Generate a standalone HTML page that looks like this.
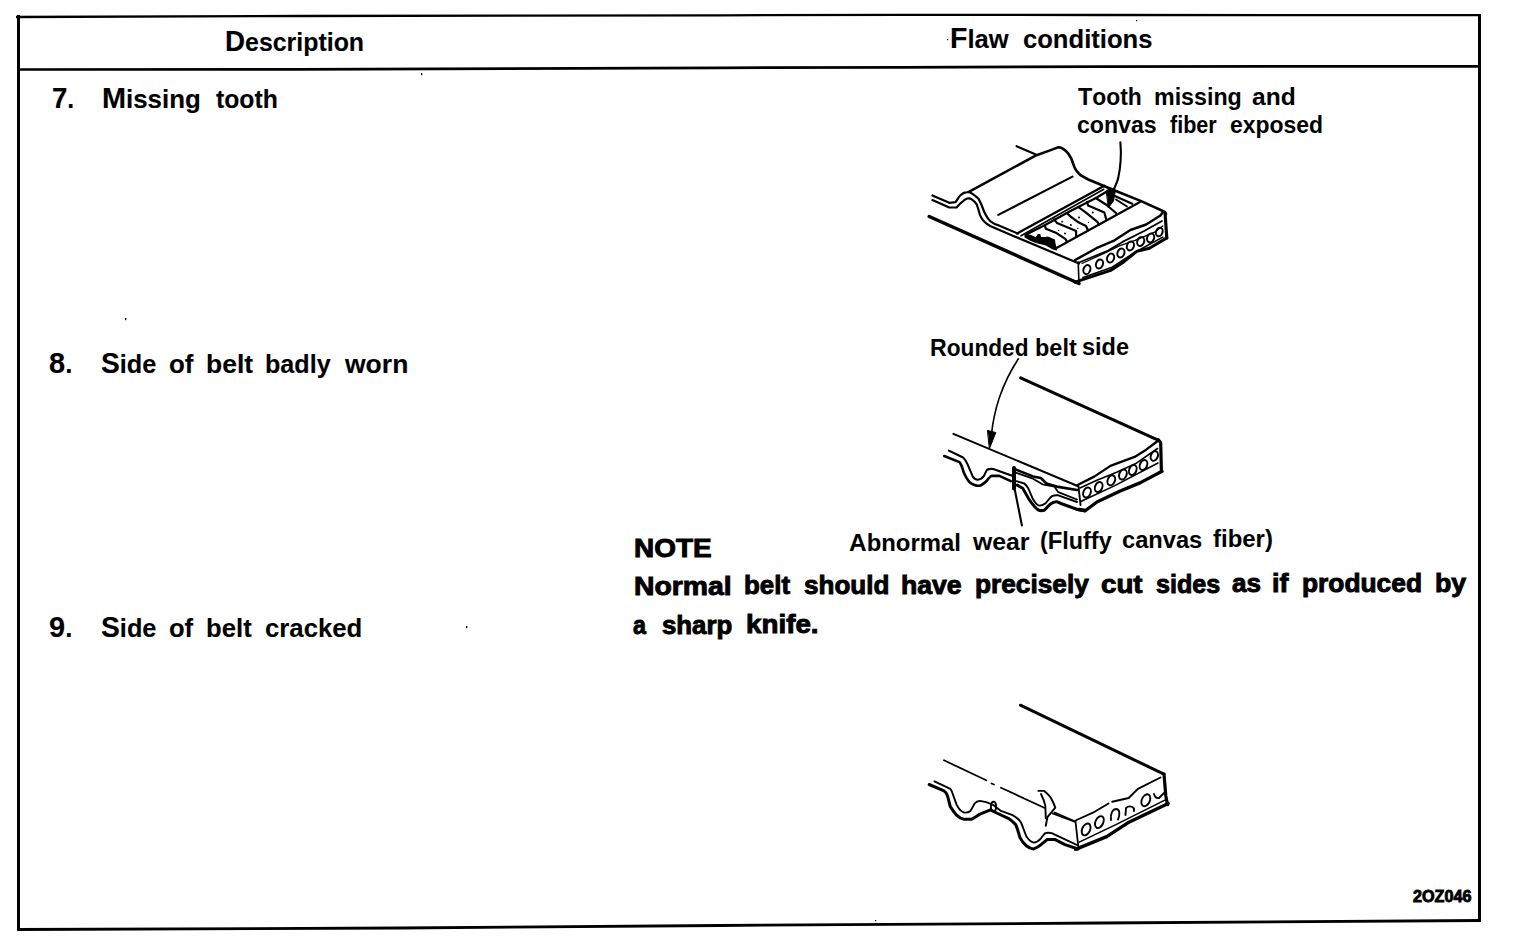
<!DOCTYPE html>
<html><head><meta charset="utf-8"><style>
html,body{margin:0;padding:0;background:#fff;width:1520px;height:948px;overflow:hidden}
#t span{position:absolute;font-family:"Liberation Sans",sans-serif;font-weight:bold;line-height:1;white-space:pre;color:#000;transform-origin:0 0}
#t i{font-style:normal;line-height:0}
svg{position:absolute;left:0;top:0}
</style></head><body>
<svg width="1520" height="948" viewBox="0 0 1520 948">

<polyline points="16,17 300,16 720,15.3 900,14.9 1100,15 1481,15.2" stroke="#000" stroke-width="2.3" fill="none"/>
<polyline points="18.5,15 18.5,931" stroke="#000" stroke-width="3" fill="none"/>
<polyline points="1479.5,14 1479.5,922" stroke="#000" stroke-width="3" fill="none"/>
<polyline points="17,69.5 300,69.3 436,68.8 720,67.8 900,67.4 1100,66.6 1300,66.4 1481,66.3" stroke="#000" stroke-width="2.7" fill="none"/>
<rect x="421" y="73" width="1.3" height="2.2" fill="#000"/>
<rect x="125" y="318" width="1.3" height="2.2" fill="#000"/>
<rect x="466" y="626" width="1.3" height="2.2" fill="#000"/>
<rect x="947" y="39" width="1.2" height="1.2" fill="#000"/>
<rect x="1136" y="20" width="1.2" height="1.2" fill="#000"/>
<rect x="875" y="920" width="1.2" height="1.2" fill="#000"/>
<polyline points="17,929.5 400,928 720,925.5 1100,923 1481,920.5" stroke="#000" stroke-width="2.8" fill="none"/>

<g fill="none" stroke="#000" stroke-linecap="round" stroke-linejoin="round">
<!-- bottom long front edge -->
<path d="M929.2,216.5 L1079,283.5" stroke-width="3.4"/>
<!-- back edge + tooth hump -->
<path d="M969.3,191.7 L1035.1,155.8 L1051.4,149.9 L1058,147.4 C1062,146.8 1065,149.5 1068.3,153.6 C1071,157 1072.5,161 1073.5,164.7 C1074.5,168.5 1076,171.4 1080.9,175.4 L1088.3,179.5 L1115.3,190.8 L1140.6,200.9 L1164,211.5 L1166,214" stroke-width="2.6"/>
<!-- tick -->
<path d="M1016.6,146.2 L1035.8,154.4" stroke-width="2.2"/>
<!-- inner tooth line -->
<path d="M998.3,214.9 L1072.5,176.6" stroke-width="2.1"/>
<!-- left profile upper -->
<path d="M932.4,195.4 L949.3,202.8 L955.6,202.2 C958,199 959,196 960.9,194.9 C963,193 965,192.3 967.2,192.2 C969.5,192 971,192.8 972.5,193.8 C975,195.5 977,197 978.8,199.1 C981,203 982.5,207 984.1,211.7 C986,215.5 988,219 990.4,221.2 C993,223.5 995.5,224.5 998.8,225.4 L1018,233.6" stroke-width="2.2"/>
<!-- left profile lower -->
<path d="M932.4,200.1 L949.3,207.5 L956.6,207.5 C958.5,205.5 960,203.5 961.9,202.2 C963.5,200.5 965.5,199 967.2,198.5 C969,198.2 970.5,198.5 971.4,199.1 C973.5,200.5 975.5,202.5 976.7,204.3 C978,207.5 979,211.5 979.9,214.9 C981.5,218.5 983.5,221.5 986.2,223.3 C988.5,225 991,226.5 993.6,227.6 L1015.7,237" stroke-width="2.2"/>
<!-- block left bottom edge -->
<path d="M1016,237 L1079,263.5" stroke-width="2.2"/>
<!-- channel lines -->
<path d="M1017,233.5 L1104.4,185.8" stroke-width="2.4"/>
<path d="M1021,235.8 L1103.8,189.3" stroke-width="1.6"/>
<path d="M1026.2,234.5 L1044.7,225.2 L1069.1,211.8 L1096.8,197.4 L1106,192" stroke-width="2.3"/>
<!-- block front ridge -->
<path d="M1055.6,248.5 L1140,202" stroke-width="2.2"/>
<!-- torn fiber jagged (filled) -->
<path d="M1025,234 L1031,235.5 L1036,238 L1038,234.5 L1040,234.5 L1040.5,237.5 L1046,237.5 L1047,237 L1049,237.5 L1054.5,240 L1055,244 L1056.5,250 L1053,249 L1046,245 L1036,242.5 L1030,240 L1025,237 Z" fill="#000" stroke-width="1.1"/>
<!-- cell dividers -->
<g stroke-width="2.2">
<path d="M1044.7,225.2 L1045.9,228.7 L1055.8,232.7 L1065.6,239.1 L1067,242"/>
<path d="M1054,219.4 L1056.9,222.9 L1069.1,228.1 L1076.1,231 L1076.1,237"/>
<path d="M1068,214.2 L1071.4,217.1 L1078.4,222.3 L1086,226 L1088,230.5"/>
<path d="M1078.4,207.2 L1085,211.8 L1097.4,221.8 L1099,224.5"/>
<path d="M1087,202 L1088.1,205.5 L1104.4,212.5 L1106.1,219"/>
<path d="M1095.7,198 L1106.7,205 L1116,213"/>
<path d="M1114.8,196 L1132.2,203.8"/>
<path d="M1116,199.5 L1127,206.5" stroke-width="1.8"/>
</g>
<g fill="#000" stroke="none">
<circle cx="1062.1" cy="221.7" r="0.9"/><circle cx="1079" cy="217.6" r="1"/><circle cx="1070.9" cy="224.9" r="1"/>
<circle cx="1065" cy="233.6" r="1"/><circle cx="1058.7" cy="230.4" r="0.7"/><circle cx="1077.8" cy="228.4" r="0.7"/>
<circle cx="1092.8" cy="212.6" r="1"/><circle cx="1088.5" cy="222.4" r="0.6"/>
</g>
<!-- leader + arrow -->
<path d="M1120.4,142.2 C1121.5,155 1120.5,168 1118,178.9 C1116.5,184 1114.5,188 1112.5,192" stroke-width="2.1"/>
<path d="M1106.5,190.5 L1111,188 L1115.5,190 L1113.5,201 L1108.5,207.5 Z" fill="#000" stroke-width="1"/>
<!-- end face -->
<path d="M1075,260.1 L1096.4,248.2 L1114.6,240.3 L1130.4,230 L1146.2,224.5 L1160.4,215.5 L1163,212" stroke-width="2.4"/>
<path d="M1079,262.5 L1108.2,250.6 L1122.5,241.9 L1144.6,230.8 L1162,221" stroke-width="1.8"/>
<path d="M1082,263.5 L1106.6,252.2 L1119.3,245.9 L1135.1,240.3 L1154.1,232.4 L1162.8,226" stroke-width="1.3"/>
<path d="M1165,212.5 L1166.8,238" stroke-width="3.2"/>
<path d="M1078.2,262 L1079,284" stroke-width="1.6"/>
<path d="M1075,282.2 L1110.6,270.4 L1124,261.7 L1136.7,251.4 L1149.4,248.2 L1166.8,237.9" stroke-width="3"/>
<path d="M1083,277.5 L1098.7,272 L1112.2,267.2 L1124,259.3 L1135.1,252.2 L1162.8,237.1" stroke-width="1.6"/>
<g stroke-width="2">
<ellipse cx="1086.9" cy="269.6" rx="3.4" ry="4.6" transform="rotate(20 1086.9 269.6)"/>
<ellipse cx="1099.5" cy="264" rx="3.4" ry="4.6" transform="rotate(20 1099.5 264)"/>
<ellipse cx="1110.6" cy="258.1" rx="3.4" ry="4.6" transform="rotate(20 1110.6 258.1)"/>
<ellipse cx="1120.9" cy="253" rx="3.4" ry="4.6" transform="rotate(20 1120.9 253)"/>
<ellipse cx="1130.4" cy="245.9" rx="3.4" ry="4.6" transform="rotate(20 1130.4 245.9)"/>
<ellipse cx="1140.7" cy="241.5" rx="3.4" ry="4.6" transform="rotate(20 1140.7 241.5)"/>
<ellipse cx="1150.6" cy="237.9" rx="3.4" ry="4.6" transform="rotate(20 1150.6 237.9)"/>
<ellipse cx="1159.3" cy="232" rx="3.2" ry="4.4" transform="rotate(20 1159.3 232)"/>
</g>
</g>
<g fill="none" stroke="#000" stroke-linecap="round" stroke-linejoin="round">
<!-- leader rounded side -->
<path d="M1018.4,358.8 C1011,370 1003,387 999.3,397.8 C996,408 993,420 991.6,433" stroke-width="1.6"/>
<path d="M987.8,430.5 L995.8,432.5 L992.5,441 L989.5,448.5 Z" fill="#000" stroke-width="1"/>
<!-- top long edge -->
<path d="M1020.6,377.9 L1157,439.6" stroke-width="3.0"/>
<!-- right edge -->
<path d="M1158.3,439.6 L1160.7,442.8 L1161.4,471.3" stroke-width="3.2"/>
<!-- thin top-side line -->
<path d="M953.4,433.8 L1077.6,486" stroke-width="1.9"/>
<!-- face top edge + inner -->
<path d="M1077.6,485 L1094.2,476.6 L1110.4,465.9 L1134.6,456.9 L1146.2,449.7 L1157,441.5" stroke-width="2.3"/>
<path d="M1079.9,488 L1096.9,480.2 L1116.6,472.2 L1136.4,463.2 L1157.5,448.5" stroke-width="1.6"/>
<!-- face left edge -->
<path d="M1078.5,486.5 L1080.5,505" stroke-width="1.9"/>
<!-- face bottom edge thick -->
<path d="M1079,509.5 L1085.5,510.5 L1096.9,502 L1120.2,491 L1140,482.9 L1162,471.3" stroke-width="3.3"/>
<path d="M1080.8,501.5 L1114.8,485.6 L1158,463" stroke-width="1.6"/>
<g stroke-width="2">
<ellipse cx="1087" cy="492.5" rx="3.6" ry="5.2" transform="rotate(22 1087 492.5)"/>
<ellipse cx="1098.7" cy="487" rx="3.6" ry="5.2" transform="rotate(22 1098.7 487)"/>
<ellipse cx="1111.3" cy="480.3" rx="3.6" ry="5.2" transform="rotate(22 1111.3 480.3)"/>
<ellipse cx="1122.9" cy="474.5" rx="3.6" ry="5.2" transform="rotate(22 1122.9 474.5)"/>
<ellipse cx="1132.8" cy="470" rx="3.6" ry="5.2" transform="rotate(22 1132.8 470)"/>
<ellipse cx="1143.5" cy="465" rx="3.6" ry="5.2" transform="rotate(22 1143.5 465)"/>
<ellipse cx="1154.3" cy="456" rx="3.4" ry="5" transform="rotate(22 1154.3 456)"/>
</g>
<!-- left profile upper -->
<path d="M948.8,450.6 L963.1,457.5 C965.5,459.5 966.5,462 967.9,465.2 L972.5,475.9 C974,478.5 976,479.7 977.8,479.7 C980.5,479.5 982.5,478 984,475.9 C985.5,473 986,471 987,469.8 C989,468.8 991,468.8 993.1,469 L1011.6,475.6" stroke-width="2.1"/>
<!-- left profile lower -->
<path d="M944.2,456 L959.5,462.1 C961.5,464.5 962.5,468 963.3,471.3 C965,475.5 967,479.5 969.4,482 C972,484.5 976,485.8 979.4,485.8 C982.5,485 985,482.5 987,480.5 C988.5,478.5 990,476.5 991.6,475.9 L999.3,475.9 L1010.8,481.1" stroke-width="2.6"/>
<!-- worn mark -->
<path d="M1014,468 L1014,488.5" stroke-width="4.0"/>
<path d="M1014,468.8 L1033,476.4 L1040.9,478 L1046.4,483.5 L1056.7,486.6 L1077,490" stroke-width="2.6"/>
<path d="M1016.4,472.8 L1033,478.7 L1042.5,484.3 L1054.3,486.6 L1058.3,492.2 L1077,499.5" stroke-width="1.8"/>
<!-- profile tooth right -->
<path d="M1016.4,481.1 L1024.3,483.5 C1026,485 1027,486.5 1028.2,488.2 L1033,499.3 C1035,502.5 1037,505.6 1039.3,505.6 C1042,505.8 1044,504.5 1045.6,503.3 C1048,500.5 1050,497.5 1052,496.1 C1054,495.3 1056,495 1058.3,495.3 L1077,502" stroke-width="1.9"/>
<path d="M1017.2,485.1 L1022.7,488.2 C1025,492 1027,496 1029,499.3 C1032,503.5 1035,507.5 1037.7,509.6 C1039.5,510.6 1042,510.8 1044.1,510.4 C1046.5,508.5 1048.5,505.5 1050.4,504 C1052.5,502.5 1054.5,501.5 1056.7,501.7 L1062.2,504 L1077.5,509.5 L1085,511" stroke-width="3.0"/>
<!-- leader abnormal wear -->
<path d="M1014.8,489.8 L1021.9,525.4" stroke-width="2.1"/>
</g>
<g fill="none" stroke="#000" stroke-linecap="round" stroke-linejoin="round">
<!-- top long edge -->
<path d="M1020.4,705.2 L1164,774.2" stroke-width="3.0"/>
<path d="M1164,774.2 L1165.8,796 L1167.5,804.7" stroke-width="3.2"/>
<!-- thin top-side line (broken) -->
<path d="M944,760.3 L986.2,780.3 M991.5,783.5 L994,784.5 M1001,787.7 L1044.2,807.7 M1054.7,812.5 L1075.3,821.5" stroke-width="1.8"/>
<!-- face top edge -->
<path d="M1075.5,820.5 L1092.9,812.7 L1108.5,803.5 M1112.2,801.7 L1128.7,798 L1137.9,788.9 L1160.5,777.5" stroke-width="1.9"/>
<path d="M1075.5,821.5 L1078.3,846.5" stroke-width="1.8"/>
<path d="M1075.5,849.4 L1106.7,836.6 L1127.8,822.8 L1168.2,803.5" stroke-width="3.3"/>
<path d="M1079.2,842.1 L1115.9,824.6 L1165.4,799.9" stroke-width="1.6"/>
<g stroke-width="1.9">
<ellipse cx="1086.1" cy="829.4" rx="3.9" ry="6.3" transform="rotate(25 1086.1 829.4)"/>
<ellipse cx="1099.4" cy="822.1" rx="3.9" ry="6.3" transform="rotate(25 1099.4 822.1)"/>
<path d="M1111,820 C1110,813 1113,809 1116.5,809 C1120,809.5 1120,815 1118,819.5"/>
<path d="M1125.5,815 L1126,808 C1128,806 1132,805.5 1134,808.5 L1134,811"/>
<ellipse cx="1145.8" cy="800.3" rx="4" ry="6.3" transform="rotate(25 1145.8 800.3)"/>
<path d="M1154,794 C1155,797.5 1157,798.5 1159,798 L1164,793"/>
</g>
<!-- profile upper thin -->
<path d="M934.5,781.4 L950.3,788.8 C951.5,790 952,791.5 952.4,793 L956.6,804.6 C958.5,808.5 961,811.5 964,812.5 C966.5,812.8 969,812 970.4,810.9 C972,808.5 973.5,805.5 974.6,803.5 C976,801.8 978,801 979.9,800.9 C984,801.2 988.5,802.5 992.5,804.6 L1001,810.9 L1012.6,815.1 C1016,817 1019,819.5 1021,822.5 C1023,827 1024.5,832 1026.3,836.2 C1028.5,839.5 1031,842 1033.6,842.6 C1036.5,842.4 1039,840.5 1041,838.3 C1042.5,836.5 1043.8,834 1045.3,833.1 C1047.5,832.6 1049.5,832.6 1051.6,833.1 L1065,839.4 L1077,845" stroke-width="1.9"/>
<!-- profile lower thick -->
<path d="M929.2,784.5 L944,790.9 C945.5,792 946.5,793.5 947.2,795.1 C948.5,799 949.3,803 950.3,806.7 C952.5,810 954.5,813 956.6,815.1 C959,817.5 961.5,819 964,819.3 L971.4,819.3 C974.5,817.8 977.5,815.5 979.9,814.1 L990.4,809.9 L996.7,813 L1008.3,818.3 C1011,820 1013.5,822.5 1015.7,824.6 C1017.5,828.5 1018.5,833 1019.9,837.3 C1021.5,840.5 1023.5,843.5 1026.3,845.7 C1028.5,847.5 1031,848.7 1033.6,848.9 C1036.5,848 1039,846.5 1041,844.7 L1047.4,839.4 L1054.7,839.4 L1065,844.7 L1078,849" stroke-width="3.0"/>
<!-- small loop -->
<ellipse cx="993.5" cy="806.5" rx="2.6" ry="4.8" stroke-width="1.9"/>
<!-- crack flap -->
<path d="M1038.4,790.9 L1044.2,790.9 C1048,794 1050.5,796.5 1051.6,799.3 C1053,802 1054.5,805 1055.3,807.7 L1047.4,817.2 L1045.8,825.7" stroke-width="1.9"/>
<path d="M1041,794 C1043,798 1044.5,802 1045.3,805.6 L1045.8,818.3" stroke-width="1.9"/>
<path d="M1052.6,813.4 L1075.3,822" stroke-width="1.8"/>
</g>

</svg>
<div id="t">
<span style="left:225.08px;top:28.74px;font-size:26px;-webkit-text-stroke:0.1px #000;transform:scaleX(0.9577)"><i style="font-size:29px">D</i>escription</span>
<span style="left:950.03px;top:26.24px;font-size:26px;-webkit-text-stroke:0.1px #000;transform:scaleX(0.9828)"><i style="font-size:29px">F</i>law</span>
<span style="left:1023.02px;top:25.74px;font-size:26px;-webkit-text-stroke:0.1px #000;transform:scaleX(0.9845)">conditions</span>
<span style="left:52.05px;top:85.74px;font-size:26px;-webkit-text-stroke:0.1px #000;transform:scaleX(0.9524)"><i style="font-size:29px">7</i>.</span>
<span style="left:102.01px;top:85.74px;font-size:26px;-webkit-text-stroke:0.1px #000;transform:scaleX(0.9948)"><i style="font-size:29px">M</i>issing</span>
<span style="left:216.00px;top:85.74px;font-size:26px;-webkit-text-stroke:0.1px #000;transform:scaleX(0.9524)">tooth</span>
<span style="left:49.00px;top:350.74px;font-size:26px;-webkit-text-stroke:0.1px #000;transform:scaleX(1.0000)"><i style="font-size:29px">8</i>.</span>
<span style="left:100.53px;top:350.74px;font-size:26px;-webkit-text-stroke:0.1px #000;transform:scaleX(0.9727)"><i style="font-size:29px">S</i>ide</span>
<span style="left:168.50px;top:350.74px;font-size:26px;-webkit-text-stroke:0.1px #000;transform:scaleX(0.9958)">of</span>
<span style="left:205.96px;top:350.74px;font-size:26px;-webkit-text-stroke:0.1px #000;transform:scaleX(1.0182)">belt</span>
<span style="left:265.37px;top:350.74px;font-size:26px;-webkit-text-stroke:0.1px #000;transform:scaleX(0.9667)">badly</span>
<span style="left:345.00px;top:350.74px;font-size:26px;-webkit-text-stroke:0.1px #000;transform:scaleX(1.0197)">worn</span>
<span style="left:49.00px;top:615.24px;font-size:26px;-webkit-text-stroke:0.1px #000;transform:scaleX(1.0000)"><i style="font-size:29px">9</i>.</span>
<span style="left:101.03px;top:615.24px;font-size:26px;-webkit-text-stroke:0.1px #000;transform:scaleX(0.9745)"><i style="font-size:29px">S</i>ide</span>
<span style="left:169.02px;top:615.24px;font-size:26px;-webkit-text-stroke:0.1px #000;transform:scaleX(0.9833)">of</span>
<span style="left:206.02px;top:615.24px;font-size:26px;-webkit-text-stroke:0.1px #000;transform:scaleX(0.9886)">belt</span>
<span style="left:265.01px;top:615.24px;font-size:26px;-webkit-text-stroke:0.1px #000;transform:scaleX(0.9896)">cracked</span>
<span style="left:1078.40px;top:85.73px;font-size:23px;-webkit-text-stroke:0.0px #000;transform:scaleX(0.9937)"><i style="font-size:23.5px">T</i>ooth</span>
<span style="left:1153.78px;top:85.73px;font-size:23px;-webkit-text-stroke:0.0px #000;transform:scaleX(1.0096)">missing</span>
<span style="left:1252.33px;top:85.73px;font-size:23px;-webkit-text-stroke:0.0px #000;transform:scaleX(1.0684)">and</span>
<span style="left:1077.39px;top:114.03px;font-size:23px;-webkit-text-stroke:0.0px #000;transform:scaleX(1.0052)">convas</span>
<span style="left:1169.60px;top:113.93px;font-size:23px;-webkit-text-stroke:0.0px #000;transform:scaleX(0.9380)">fiber</span>
<span style="left:1230.30px;top:113.53px;font-size:23px;-webkit-text-stroke:0.0px #000;transform:scaleX(0.9967)">exposed</span>
<span style="left:930.33px;top:336.73px;font-size:23px;-webkit-text-stroke:0.0px #000;transform:scaleX(0.9845)"><i style="font-size:23.5px">R</i>ounded</span>
<span style="left:1035.16px;top:336.73px;font-size:23px;-webkit-text-stroke:0.0px #000;transform:scaleX(1.0205)">belt</span>
<span style="left:1082.48px;top:336.23px;font-size:23px;-webkit-text-stroke:0.0px #000;transform:scaleX(1.0205)">side</span>
<span style="left:848.96px;top:531.73px;font-size:23px;-webkit-text-stroke:0.0px #000;transform:scaleX(1.0381)"><i style="font-size:23.5px">A</i>bnormal</span>
<span style="left:973.00px;top:530.73px;font-size:23px;-webkit-text-stroke:0.0px #000;transform:scaleX(1.0769)">wear</span>
<span style="left:1039.79px;top:529.73px;font-size:23px;-webkit-text-stroke:0.0px #000;transform:scaleX(1.0145)">(<i style="font-size:23.5px">F</i>luffy</span>
<span style="left:1121.97px;top:528.73px;font-size:23px;-webkit-text-stroke:0.0px #000;transform:scaleX(1.0289)">canvas</span>
<span style="left:1213.00px;top:527.73px;font-size:23px;-webkit-text-stroke:0.0px #000;transform:scaleX(1.0411)">fiber)</span>
<span style="left:633.88px;top:535.78px;font-size:25px;-webkit-text-stroke:0.9px #000;transform:scaleX(1.1176)">NOTE</span>
<span style="left:633.87px;top:573.78px;font-size:25px;-webkit-text-stroke:0.9px #000;transform:scaleX(1.1345)">Normal</span>
<span style="left:743.66px;top:573.28px;font-size:25px;-webkit-text-stroke:0.9px #000;transform:scaleX(1.0364)">belt</span>
<span style="left:804.00px;top:572.78px;font-size:25px;-webkit-text-stroke:0.9px #000;transform:scaleX(1.0420)">should</span>
<span style="left:900.94px;top:572.78px;font-size:25px;-webkit-text-stroke:0.9px #000;transform:scaleX(1.0643)">have</span>
<span style="left:974.65px;top:572.28px;font-size:25px;-webkit-text-stroke:0.9px #000;transform:scaleX(1.0500)">precisely</span>
<span style="left:1100.89px;top:571.78px;font-size:25px;-webkit-text-stroke:0.9px #000;transform:scaleX(1.1081)">cut</span>
<span style="left:1155.90px;top:571.78px;font-size:25px;-webkit-text-stroke:0.9px #000;transform:scaleX(1.0048)">sides</span>
<span style="left:1232.10px;top:571.28px;font-size:25px;-webkit-text-stroke:0.9px #000;transform:scaleX(1.0444)">as</span>
<span style="left:1272.12px;top:571.28px;font-size:25px;-webkit-text-stroke:0.9px #000;transform:scaleX(1.0800)">if</span>
<span style="left:1302.05px;top:570.78px;font-size:25px;-webkit-text-stroke:0.9px #000;transform:scaleX(1.0536)">produced</span>
<span style="left:1434.63px;top:570.78px;font-size:25px;-webkit-text-stroke:0.9px #000;transform:scaleX(1.0679)">by</span>
<span style="left:633.00px;top:612.58px;font-size:25px;-webkit-text-stroke:0.9px #000;transform:scaleX(0.9333)">a</span>
<span style="left:662.00px;top:612.58px;font-size:25px;-webkit-text-stroke:0.9px #000;transform:scaleX(1.0324)">sharp</span>
<span style="left:745.89px;top:611.58px;font-size:25px;-webkit-text-stroke:0.9px #000;transform:scaleX(1.1111)">knife.</span>
<span style="left:1413.00px;top:888.36px;font-size:17px;-webkit-text-stroke:0.9px #000;transform:scaleX(0.9508)">2OZ046</span>
</div>
</body></html>
